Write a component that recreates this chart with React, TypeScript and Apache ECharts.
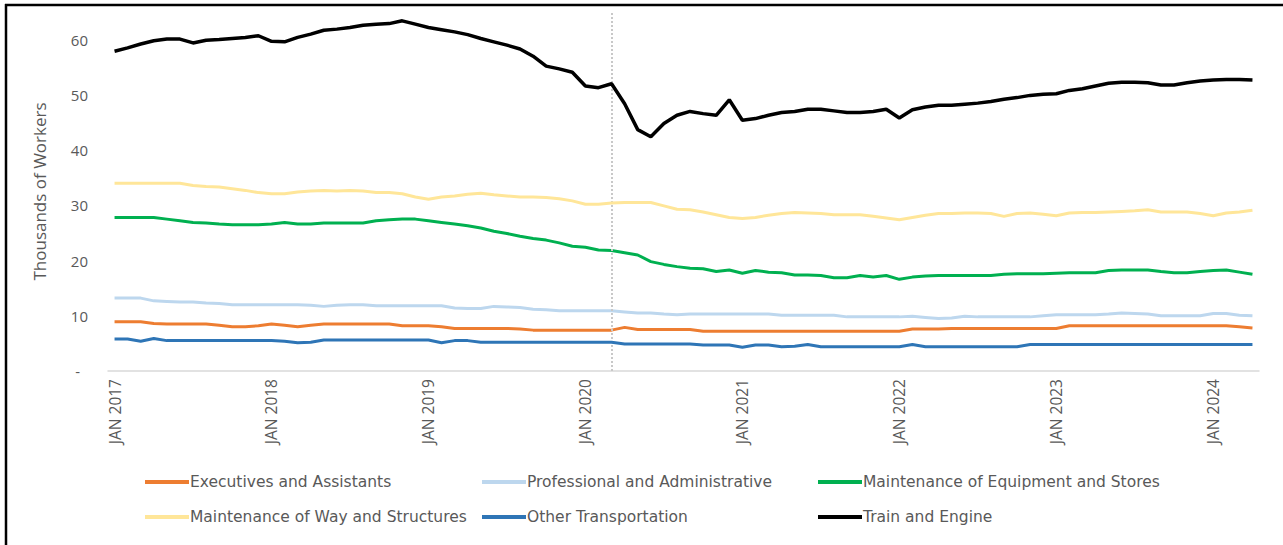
import React, { useEffect, useRef } from "react";
import * as echarts from "echarts";

const YEARS = [2017, 2018, 2019, 2020, 2021, 2022, 2023, 2024];
const MONTHS = ["JAN", "FEB", "MAR", "APR", "MAY", "JUN", "JUL", "AUG", "SEP", "OCT", "NOV", "DEC"];
const N_POINTS = 88; // Jan 2017 .. Apr 2024
const CATEGORIES: string[] = [];
YEARS.forEach((y) => MONTHS.forEach((m) => CATEGORIES.push(`${m} ${y}`)));
CATEGORIES.length = N_POINTS;

const MARKER_MONTH = "MAR 2020";

const EXECUTIVES = [
  8.9, 8.9, 8.9, 8.6, 8.5, 8.5, 8.5, 8.5, 8.3, 8.0, 8.0, 8.2,
  8.5, 8.3, 8.0, 8.3, 8.5, 8.5, 8.5, 8.5, 8.5, 8.5, 8.2, 8.2,
  8.2, 8.0, 7.7, 7.7, 7.7, 7.7, 7.7, 7.6, 7.4, 7.4, 7.4, 7.4,
  7.4, 7.4, 7.4, 7.9, 7.5, 7.5, 7.5, 7.5, 7.5, 7.2, 7.2, 7.2,
  7.2, 7.2, 7.2, 7.2, 7.2, 7.2, 7.2, 7.2, 7.2, 7.2, 7.2, 7.2,
  7.2, 7.6, 7.6, 7.6, 7.7, 7.7, 7.7, 7.7, 7.7, 7.7, 7.7, 7.7,
  7.7, 8.2, 8.2, 8.2, 8.2, 8.2, 8.2, 8.2, 8.2, 8.2, 8.2, 8.2,
  8.2, 8.2, 8.0, 7.8,
];

const PROFESSIONAL = [
  13.2, 13.2, 13.2, 12.7, 12.6, 12.5, 12.5, 12.3, 12.2, 12.0, 12.0, 12.0,
  12.0, 12.0, 12.0, 11.9, 11.7, 11.9, 12.0, 12.0, 11.8, 11.8, 11.8, 11.8,
  11.8, 11.8, 11.4, 11.3, 11.3, 11.7, 11.6, 11.5, 11.2, 11.1, 10.9, 10.9,
  10.9, 10.9, 10.9, 10.7, 10.5, 10.5, 10.3, 10.2, 10.3, 10.3, 10.3, 10.3,
  10.3, 10.3, 10.3, 10.1, 10.1, 10.1, 10.1, 10.1, 9.8, 9.8, 9.8, 9.8,
  9.8, 9.9, 9.7, 9.5, 9.6, 9.9, 9.8, 9.8, 9.8, 9.8, 9.8, 10.0,
  10.2, 10.2, 10.2, 10.2, 10.3, 10.5, 10.4, 10.3, 10.0, 10.0, 10.0, 10.0,
  10.4, 10.4, 10.1, 10.0,
];

const MAINT_EQUIPMENT = [
  27.8, 27.8, 27.8, 27.8, 27.5, 27.2, 26.9, 26.8, 26.6, 26.5, 26.5, 26.5,
  26.6, 26.9, 26.6, 26.6, 26.8, 26.8, 26.8, 26.8, 27.2, 27.4, 27.5, 27.5,
  27.2, 26.9, 26.6, 26.3, 25.9, 25.3, 24.9, 24.4, 24.0, 23.7, 23.2, 22.6,
  22.4, 21.9, 21.8, 21.4, 21.0, 19.8, 19.3, 18.9, 18.6, 18.5, 18.0, 18.3,
  17.7, 18.2, 17.9, 17.8, 17.4, 17.4, 17.3, 16.9, 16.9, 17.3, 17.0, 17.3,
  16.6, 17.0, 17.2, 17.3, 17.3, 17.3, 17.3, 17.3, 17.5, 17.6, 17.6, 17.6,
  17.7, 17.8, 17.8, 17.8, 18.2, 18.3, 18.3, 18.3, 18.0, 17.8, 17.8, 18.0,
  18.2, 18.3, 17.9, 17.5,
];

const MAINT_WAY = [
  34.0, 34.0, 34.0, 34.0, 34.0, 34.0, 33.6, 33.4, 33.3, 33.0, 32.7, 32.3,
  32.1, 32.1, 32.4, 32.6, 32.7, 32.6, 32.7, 32.6, 32.3, 32.3, 32.1, 31.5,
  31.1, 31.5, 31.7, 32.0, 32.2, 31.9, 31.7, 31.5, 31.5, 31.4, 31.2, 30.8,
  30.2, 30.2, 30.4, 30.5, 30.5, 30.5, 29.9, 29.3, 29.2, 28.8, 28.3, 27.8,
  27.6, 27.8, 28.2, 28.5, 28.7, 28.6, 28.5, 28.3, 28.3, 28.3, 28.0, 27.7,
  27.4, 27.8, 28.2, 28.5, 28.5, 28.6, 28.6, 28.5, 28.0, 28.5, 28.6, 28.4,
  28.1, 28.6, 28.7, 28.7, 28.8, 28.9, 29.0, 29.2, 28.8, 28.8, 28.8, 28.5,
  28.1, 28.6, 28.8, 29.1,
];

const OTHER_TRANSPORT = [
  5.8, 5.8, 5.4, 5.9, 5.5, 5.5, 5.5, 5.5, 5.5, 5.5, 5.5, 5.5,
  5.5, 5.4, 5.1, 5.2, 5.6, 5.6, 5.6, 5.6, 5.6, 5.6, 5.6, 5.6,
  5.6, 5.1, 5.5, 5.5, 5.2, 5.2, 5.2, 5.2, 5.2, 5.2, 5.2, 5.2,
  5.2, 5.2, 5.2, 4.9, 4.9, 4.9, 4.9, 4.9, 4.9, 4.7, 4.7, 4.7,
  4.3, 4.7, 4.7, 4.4, 4.5, 4.8, 4.4, 4.4, 4.4, 4.4, 4.4, 4.4,
  4.4, 4.8, 4.4, 4.4, 4.4, 4.4, 4.4, 4.4, 4.4, 4.4, 4.8, 4.8,
  4.8, 4.8, 4.8, 4.8, 4.8, 4.8, 4.8, 4.8, 4.8, 4.8, 4.8, 4.8,
  4.8, 4.8, 4.8, 4.8,
];

const TRAIN_ENGINE = [
  57.9, 58.5, 59.2, 59.8, 60.1, 60.1, 59.4, 59.9, 60.0, 60.2, 60.4, 60.7,
  59.7, 59.6, 60.4, 61.0, 61.7, 61.9, 62.2, 62.6, 62.8, 62.9, 63.4, 62.8,
  62.2, 61.8, 61.4, 60.9, 60.2, 59.6, 59.0, 58.3, 57.0, 55.2, 54.7, 54.1,
  51.6, 51.3, 52.0, 48.4, 43.7, 42.4, 44.8, 46.3, 47.0, 46.6, 46.3, 49.1,
  45.4, 45.7, 46.3, 46.8, 47.0, 47.4, 47.4, 47.1, 46.8, 46.8, 47.0, 47.4,
  45.8, 47.3, 47.8, 48.1, 48.1, 48.3, 48.5, 48.8, 49.2, 49.5, 49.9, 50.1,
  50.2, 50.8, 51.1, 51.6, 52.1, 52.3, 52.3, 52.2, 51.8, 51.8, 52.2, 52.5,
  52.7, 52.8, 52.8, 52.7,
];

const SERIES_NAMES = [
  "Executives and Assistants",
  "Professional and Administrative",
  "Maintenance of Equipment and Stores",
  "Maintenance of Way and Structures",
  "Other Transportation",
  "Train and Engine",
];
const SERIES_DATA = [EXECUTIVES, PROFESSIONAL, MAINT_EQUIPMENT, MAINT_WAY, OTHER_TRANSPORT, TRAIN_ENGINE];
const SERIES_COLORS = ["#ED7D31", "#BDD7EE", "#00B050", "#FFE699", "#2E75B6", "#000000"];
const SERIES_WIDTHS = [3, 3, 3, 3, 3, 3.5];

const Y_TITLE = "Thousands of Workers";
const FONT = "'Open Sans', 'Noto Sans', sans-serif";
const LEGEND_FONT = "'DejaVu Sans', 'Open Sans', sans-serif";
const GRAY = "#595959";

// legend layout: [left, top]
const LEGEND_POS: [number, number][] = [
  [145, 474],
  [482, 474],
  [818, 474],
  [145, 509],
  [482, 509],
  [818, 509],
];

export default function App() {
  const ref = useRef<HTMLDivElement>(null);

  useEffect(() => {
    if (!ref.current) return;
    const chart = echarts.init(ref.current, null, { renderer: "svg" });

    const series: any[] = SERIES_NAMES.map((name, i) => ({
      name,
      type: "line",
      data: SERIES_DATA[i],
      showSymbol: false,
      symbol: "none",
      lineStyle: { color: SERIES_COLORS[i], width: SERIES_WIDTHS[i] },
      itemStyle: { color: SERIES_COLORS[i] },
      z: 2 + i,
    }));
    series[0].markLine = {
      silent: true,
      symbol: "none",
      label: { show: false },
      lineStyle: { color: "#C8C8C8", type: "dotted", width: 2 },
      data: [{ xAxis: MARKER_MONTH }],
    };

    const legends = SERIES_NAMES.map((name, i) => ({
      data: [name],
      left: LEGEND_POS[i][0],
      top: LEGEND_POS[i][1],
      icon: "rect",
      itemWidth: 44,
      itemHeight: 4,
      padding: 0,
      itemGap: 0,
      selectedMode: false,
      textStyle: { color: GRAY, fontSize: 15.5, fontFamily: LEGEND_FONT, padding: [0, 0, 0, -4] },
    }));

    chart.setOption({
      animation: false,
      backgroundColor: "#ffffff",
      grid: { left: 108, right: 24, top: 12, bottom: 174 },
      legend: legends,
      xAxis: {
        type: "category",
        data: CATEGORIES,
        boundaryGap: true,
        axisLine: { lineStyle: { color: "#D9D9D9", width: 1.5 } },
        axisTick: { show: false },
        axisLabel: {
          interval: (idx: number) => idx % 12 === 0,
          rotate: 90,
          margin: 8,
          color: GRAY,
          fontSize: 15.5,
          fontFamily: FONT,
        },
        splitLine: { show: false },
      },
      yAxis: {
        type: "value",
        min: 0,
        max: 65,
        interval: 10,
        name: Y_TITLE,
        nameLocation: "middle",
        nameGap: 60,
        nameRotate: 90,
        nameTextStyle: { color: GRAY, fontSize: 17, fontFamily: FONT },
        axisLine: { show: false },
        axisTick: { show: false },
        splitLine: { show: false },
        axisLabel: {
          showMaxLabel: false,
          margin: 20,
          color: GRAY,
          fontSize: 15,
          fontFamily: FONT,
          formatter: (v: number) => (v === 0 ? "{d|-}" : String(v)),
          rich: { d: { color: GRAY, fontSize: 15, fontFamily: FONT, padding: [0, 8, 0, 0] } },
        },
      },
      graphic: [
        { type: "line", shape: { x1: 5, y1: 5, x2: 1283, y2: 5 }, style: { stroke: "#000", lineWidth: 2.5 } },
        { type: "line", shape: { x1: 6, y1: 4, x2: 6, y2: 545 }, style: { stroke: "#000", lineWidth: 2.5 } },
      ],
      series,
    });

    return () => chart.dispose();
  }, []);

  return (
    <div
      ref={ref}
      style={{ position: "fixed", left: 0, top: 0, width: 1283, height: 545, background: "#fff" }}
    />
  );
}
